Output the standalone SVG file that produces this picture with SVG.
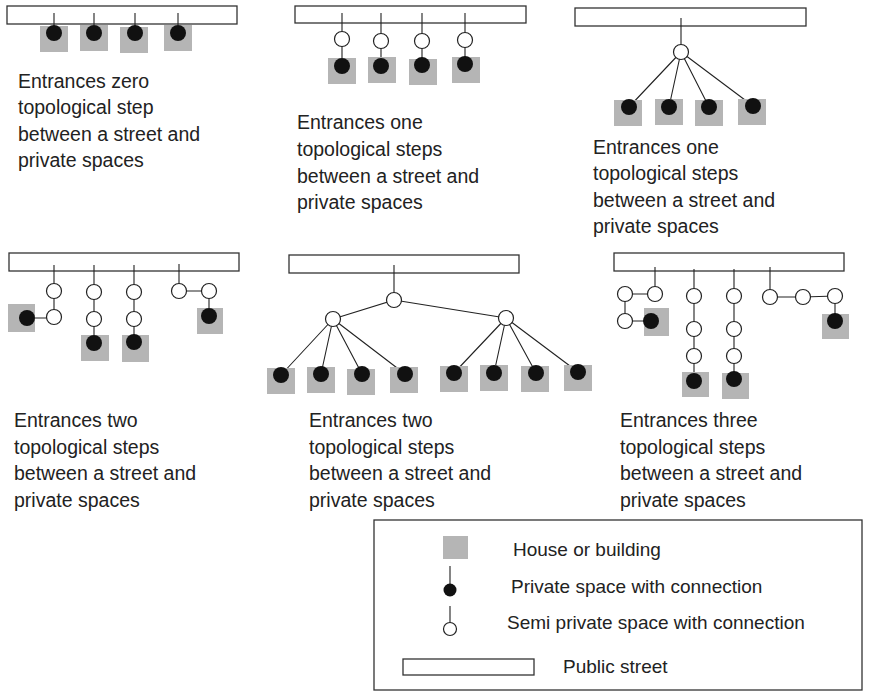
<svg xmlns="http://www.w3.org/2000/svg" width="889" height="692" viewBox="0 0 889 692">
<style>
.street{fill:#fff;stroke:#333;stroke-width:1.3}
.house{fill:#b5b5b5}
.priv{fill:#111}
.semi{fill:#fff;stroke:#222;stroke-width:1.2}
.link{stroke:#222;stroke-width:1.1;fill:none}
.txt{font-family:"Liberation Sans",Arial,Helvetica,sans-serif;font-size:19.5px;fill:#222}
.ltxt{font-family:"Liberation Sans",Arial,Helvetica,sans-serif;font-size:19px;fill:#222}
</style>
<rect width="889" height="692" fill="#fff"/>
<g id="streets">
<rect id="street1" class="street" x="7" y="6" width="230" height="18"/>
<rect id="street2" class="street" x="295" y="6" width="231" height="17"/>
<rect id="street3" class="street" x="575" y="8" width="231" height="18"/>
<rect id="street4" class="street" x="9" y="253" width="230" height="18"/>
<rect id="street5" class="street" x="289" y="255" width="230" height="18"/>
<rect id="street6" class="street" x="614" y="253" width="230" height="18"/>
</g>
<g id="connectors" class="link">
<path d="M54 13V33M94 13V33M135 13V33M178 13V33"/>
<path d="M342 13V66M381 13V66M422 13V65M465 13V64"/>
<path d="M681 18V52M681 52L629 107M681 52L669 107M681 52L709 107M681 52L753 106"/>
<path d="M54 265V318H27M94 265V343M134 265V342M179 264V291H209V316"/>
<path d="M394 265V300L333 319M394 300L506 318M333 319L281 375M333 319L321 374M333 319L362 374M333 319L405 374M506 318L454 373M506 318L494 373M506 318L536 373M506 318L578 372"/>
<path d="M655 267V294H625V321H651M694 269V381M734 269V379M770 267V297H803L835 296V321"/>
<path d="M450 566V590M450 606V629"/>
</g>
<g id="panel1">
<g id="p1h1"><rect class="house" x="40" y="26" width="28" height="26"/><circle class="priv" cx="54" cy="33" r="8"/></g>
<g id="p1h2"><rect class="house" x="80" y="25" width="28" height="26"/><circle class="priv" cx="94" cy="33" r="8"/></g>
<g id="p1h3"><rect class="house" x="120" y="27" width="28" height="26"/><circle class="priv" cx="135" cy="33" r="8"/></g>
<g id="p1h4"><rect class="house" x="164" y="25" width="28" height="26"/><circle class="priv" cx="178" cy="33" r="8"/></g>
<text class="txt" x="18" y="87.5">Entrances zero</text>
<text class="txt" x="18" y="114">topological step</text>
<text class="txt" x="18" y="140.5">between a street and</text>
<text class="txt" x="18" y="167">private spaces</text>
</g>
<g id="panel2">
<g id="p2h1"><circle class="semi" cx="342" cy="39" r="7.5"/><rect class="house" x="328" y="58" width="28" height="26"/><circle class="priv" cx="342" cy="66" r="8"/></g>
<g id="p2h2"><circle class="semi" cx="381" cy="41" r="7.5"/><rect class="house" x="368" y="57" width="28" height="26"/><circle class="priv" cx="381" cy="66" r="8"/></g>
<g id="p2h3"><circle class="semi" cx="422" cy="41" r="7.5"/><rect class="house" x="409" y="59" width="28" height="26"/><circle class="priv" cx="422" cy="65" r="8"/></g>
<g id="p2h4"><circle class="semi" cx="465" cy="40" r="7.5"/><rect class="house" x="452" y="57" width="28" height="26"/><circle class="priv" cx="465" cy="64" r="8"/></g>
<text class="txt" x="297" y="129">Entrances one</text>
<text class="txt" x="297" y="156">topological steps</text>
<text class="txt" x="297" y="182.5">between a street and</text>
<text class="txt" x="297" y="209">private spaces</text>
</g>
<g id="panel3">
<g id="p3s1"><circle class="semi" cx="681" cy="52" r="7.5"/></g>
<g id="p3h1"><rect class="house" x="614" y="100" width="28" height="26"/><circle class="priv" cx="629" cy="107" r="8"/></g>
<g id="p3h2"><rect class="house" x="655" y="99" width="28" height="26"/><circle class="priv" cx="669" cy="107" r="8"/></g>
<g id="p3h3"><rect class="house" x="695" y="100" width="28" height="26"/><circle class="priv" cx="709" cy="107" r="8"/></g>
<g id="p3h4"><rect class="house" x="738" y="99" width="28" height="26"/><circle class="priv" cx="753" cy="106" r="8"/></g>
<text class="txt" x="593" y="153.5">Entrances one</text>
<text class="txt" x="593" y="180">topological steps</text>
<text class="txt" x="593" y="206.5">between a street and</text>
<text class="txt" x="593" y="233">private spaces</text>
</g>
<g id="panel4">
<g id="p4c1"><circle class="semi" cx="54" cy="291" r="7.5"/><circle class="semi" cx="54" cy="317" r="7.5"/><rect class="house" x="8" y="304" width="27" height="28"/><circle class="priv" cx="27" cy="318" r="8"/></g>
<g id="p4c2"><circle class="semi" cx="94" cy="292" r="7.5"/><circle class="semi" cx="94" cy="319" r="7.5"/><rect class="house" x="81" y="335" width="28" height="26"/><circle class="priv" cx="94" cy="343" r="8"/></g>
<g id="p4c3"><circle class="semi" cx="134" cy="292" r="7.5"/><circle class="semi" cx="134" cy="319" r="7.5"/><rect class="house" x="122" y="335" width="27" height="27"/><circle class="priv" cx="134" cy="342" r="8"/></g>
<g id="p4c4"><circle class="semi" cx="179" cy="291" r="7.5"/><circle class="semi" cx="209" cy="291" r="7.5"/><rect class="house" x="197" y="308" width="26" height="26"/><circle class="priv" cx="209" cy="316" r="8"/></g>
<text class="txt" x="14" y="427">Entrances two</text>
<text class="txt" x="14" y="453.5">topological steps</text>
<text class="txt" x="14" y="480">between a street and</text>
<text class="txt" x="14" y="506.5">private spaces</text>
</g>
<g id="panel5">
<g id="p5s"><circle class="semi" cx="394" cy="300" r="7.5"/><circle class="semi" cx="333" cy="319" r="7.5"/><circle class="semi" cx="506" cy="318" r="7.5"/></g>
<g id="p5h1"><rect class="house" x="267" y="368" width="28" height="26"/><circle class="priv" cx="281" cy="375" r="8"/></g>
<g id="p5h2"><rect class="house" x="307" y="367" width="28" height="26"/><circle class="priv" cx="321" cy="374" r="8"/></g>
<g id="p5h3"><rect class="house" x="347" y="369" width="28" height="26"/><circle class="priv" cx="362" cy="374" r="8"/></g>
<g id="p5h4"><rect class="house" x="390" y="367" width="28" height="26"/><circle class="priv" cx="405" cy="374" r="8"/></g>
<g id="p5h5"><rect class="house" x="440" y="366" width="28" height="26"/><circle class="priv" cx="454" cy="373" r="8"/></g>
<g id="p5h6"><rect class="house" x="480" y="365" width="28" height="26"/><circle class="priv" cx="494" cy="373" r="8"/></g>
<g id="p5h7"><rect class="house" x="521" y="366" width="28" height="26"/><circle class="priv" cx="536" cy="373" r="8"/></g>
<g id="p5h8"><rect class="house" x="564" y="365" width="28" height="26"/><circle class="priv" cx="578" cy="372" r="8"/></g>
<text class="txt" x="309" y="427">Entrances two</text>
<text class="txt" x="309" y="453.5">topological steps</text>
<text class="txt" x="309" y="480">between a street and</text>
<text class="txt" x="309" y="506.5">private spaces</text>
</g>
<g id="panel6">
<g id="p6c1"><circle class="semi" cx="655" cy="294" r="7.5"/><circle class="semi" cx="625" cy="294" r="7.5"/><circle class="semi" cx="625" cy="321" r="7.5"/><rect class="house" x="644" y="308" width="25" height="28"/><circle class="priv" cx="651" cy="321" r="8"/></g>
<g id="p6c2"><circle class="semi" cx="694" cy="296" r="7.5"/><circle class="semi" cx="694" cy="329" r="7.5"/><circle class="semi" cx="694" cy="356" r="7.5"/><rect class="house" x="682" y="372" width="27" height="25"/><circle class="priv" cx="694" cy="381" r="8"/></g>
<g id="p6c3"><circle class="semi" cx="734" cy="296" r="7.5"/><circle class="semi" cx="734" cy="329" r="7.5"/><circle class="semi" cx="734" cy="356" r="7.5"/><rect class="house" x="722" y="373" width="27" height="26"/><circle class="priv" cx="734" cy="379" r="8"/></g>
<g id="p6c4"><circle class="semi" cx="770" cy="297" r="7.5"/><circle class="semi" cx="803" cy="297" r="7.5"/><circle class="semi" cx="835" cy="296" r="7.5"/><rect class="house" x="822" y="314" width="27" height="25"/><circle class="priv" cx="835" cy="321" r="8"/></g>
<text class="txt" x="620" y="427">Entrances three</text>
<text class="txt" x="620" y="453.5">topological steps</text>
<text class="txt" x="620" y="480">between a street and</text>
<text class="txt" x="620" y="506.5">private spaces</text>
</g>
<g id="legend">
<rect x="374" y="520" width="488" height="170" fill="none" stroke="#333" stroke-width="1.3"/>
<g id="lg-house"><rect class="house" x="443" y="536" width="25" height="23"/><text class="ltxt" x="513" y="556">House or building</text></g>
<g id="lg-priv"><circle class="priv" cx="450" cy="590" r="6.5"/><text class="ltxt" x="511" y="593">Private space with connection</text></g>
<g id="lg-semi"><circle class="semi" cx="450" cy="629" r="6.5"/><text class="ltxt" x="507" y="629">Semi private space with connection</text></g>
<g id="lg-street"><rect class="street" x="403" y="659" width="131" height="16"/><text class="ltxt" x="563" y="673">Public street</text></g>
</g>
</svg>
